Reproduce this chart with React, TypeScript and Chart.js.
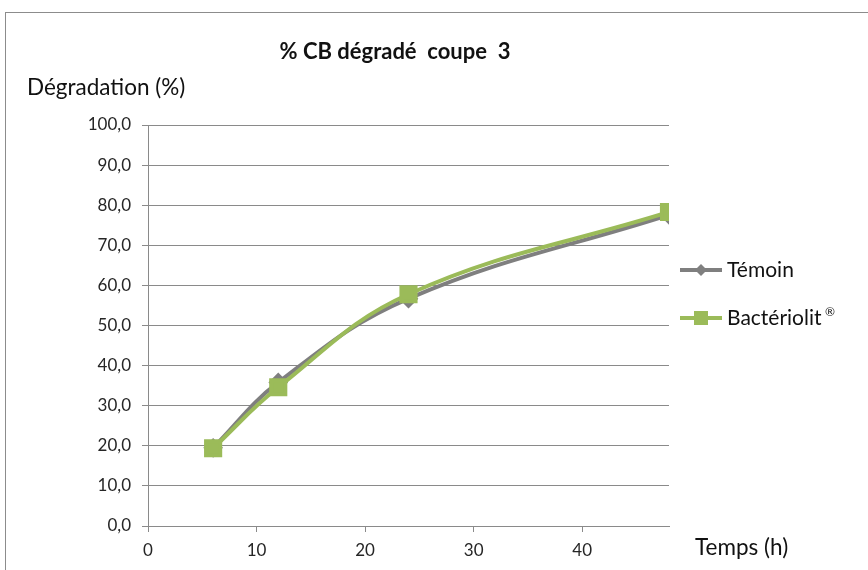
import React, { useEffect, useRef } from "react";
import { Chart, registerables } from "chart.js";

Chart.register(...registerables);

const hours = [6, 12, 24, 48];
const temoin = [19.5, 35.8, 56.7, 77.6];
const bacteriolit = [19.4, 34.6, 57.8, 78.3];
const seriesNames = ["Témoin", "Bactériolit"];
const titleText = "% CB dégradé  coupe  3";
const yTitle = "Dégradation (%)";
const xTitle = "Temps (h)";
const xTickValues = [0, 10, 20, 30, 40];

const GRAY = "#7f7f7f";
const GREEN = "#9bbb59";
const GRID = "#8a8a8a";
const TEXT = "#111111";
const FONT = "Lato, 'Open Sans', sans-serif";

const overlay = {
  id: "overlay",
  beforeDraw(chart: any) {
    const ctx = chart.ctx;
    ctx.save();
    ctx.fillStyle = "#ffffff";
    ctx.fillRect(0, 0, chart.width, chart.height);
    ctx.strokeStyle = "#8c8c8c";
    ctx.lineWidth = 1;
    ctx.strokeRect(5.5, 12.5, 1000, 1000);
    ctx.restore();
  },
  afterDraw(chart: any) {
    const ctx = chart.ctx;
    ctx.save();
    ctx.fillStyle = TEXT;
    ctx.textBaseline = "middle";
    ctx.font = `bold 22px ${FONT}`;
    ctx.textAlign = "center";
    ctx.fillText(titleText, 395, 52);
    ctx.font = `22.5px ${FONT}`;
    ctx.textAlign = "left";
    ctx.fillText(yTitle, 27, 88);
    ctx.fillText(xTitle, 695, 548);

    // legend
    const items = [
      { name: seriesNames[0], color: GRAY, y: 270, style: "diamond" },
      { name: seriesNames[1], color: GREEN, y: 318, style: "square" },
    ];
    items.forEach((it) => {
      ctx.strokeStyle = it.color;
      ctx.lineWidth = 4;
      ctx.beginPath();
      ctx.moveTo(680, it.y);
      ctx.lineTo(722, it.y);
      ctx.stroke();
      ctx.fillStyle = it.color;
      if (it.style === "square") {
        ctx.fillRect(694, it.y - 7, 14, 14);
      } else {
        ctx.beginPath();
        ctx.moveTo(701, it.y - 6);
        ctx.lineTo(707, it.y);
        ctx.lineTo(701, it.y + 6);
        ctx.lineTo(695, it.y);
        ctx.closePath();
        ctx.fill();
      }
      ctx.fillStyle = TEXT;
      ctx.font = `21px ${FONT}`;
      ctx.fillText(it.name, 727, it.y);
      if (it.style === "square") {
        const w = ctx.measureText(it.name + " ").width;
        ctx.font = `12px ${FONT}`;
        ctx.fillText("®", 727 + w - 2, it.y - 6);
      }
    });
    ctx.restore();
  },
};

export default function App() {
  const ref = useRef<HTMLCanvasElement | null>(null);
  useEffect(() => {
    if (!ref.current) return;
    const chart = new Chart(ref.current, {
      type: "line",
      data: {
        datasets: [
          {
            label: seriesNames[0],
            data: hours.map((h, i) => ({ x: h, y: temoin[i] })),
            borderColor: GRAY,
            backgroundColor: GRAY,
            borderWidth: 4,
            pointStyle: "rectRot",
            pointRadius: 7,
            tension: 0.4,
            order: 1,
          },
          {
            label: seriesNames[1],
            data: hours.map((h, i) => ({ x: h, y: bacteriolit[i] })),
            borderColor: GREEN,
            backgroundColor: GREEN,
            borderWidth: 4,
            pointStyle: "rect",
            pointRadius: 10,
            tension: 0.4,
            order: 0,
          },
        ],
      },
      options: {
        animation: false,
        responsive: false,
        maintainAspectRatio: false,
        layout: { padding: { left: 0, top: 125, right: 199, bottom: 9 } },
        plugins: { legend: { display: false }, tooltip: { enabled: false }, title: { display: false } },
        scales: {
          x: {
            type: "linear",
            min: 0,
            max: 48,
            afterFit: (s: any) => {
              s.height = 35;
            },
            afterBuildTicks: (s: any) => {
              s.ticks = xTickValues.map((v) => ({ value: v }));
            },
            ticks: { color: "#262626", font: { family: FONT, size: 17 }, padding: 8 },
            grid: { drawOnChartArea: false, drawTicks: true, tickLength: 6, color: GRID },
            border: { color: GRID, width: 1 },
          },
          y: {
            min: 0,
            max: 100,
            afterFit: (s: any) => {
              s.width = 148;
            },
            ticks: {
              stepSize: 10,
              color: "#262626",
              font: { family: FONT, size: 17 },
              padding: 11,
              callback: (v: any) => Number(v).toFixed(1).replace(".", ","),
            },
            grid: { color: GRID, lineWidth: 1, tickLength: 6 },
            border: { color: GRID, width: 1 },
          },
        },
      },
      plugins: [overlay],
    });
    return () => chart.destroy();
  }, []);
  return (
    <div style={{ position: "fixed", left: 0, top: 0, width: 868, height: 570, background: "#fff" }}>
      <canvas ref={ref} width={868} height={570} style={{ width: 868, height: 570, display: "block" }} />
    </div>
  );
}
